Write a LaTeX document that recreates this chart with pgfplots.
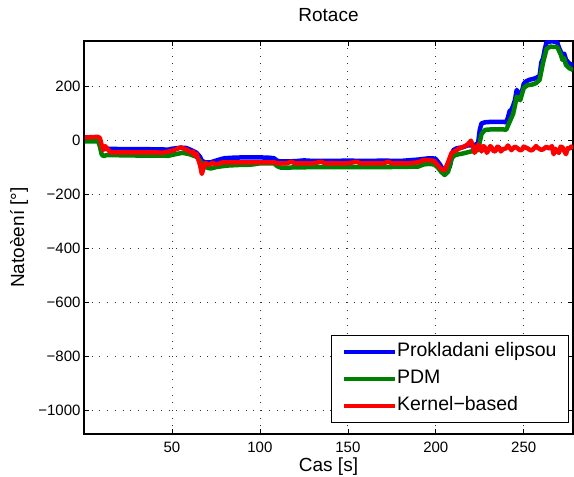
\documentclass[border=0pt]{standalone}
\usepackage{pgfplots}
\pgfplotsset{compat=1.18}
\usepackage{fontspec}
\setmainfont{Liberation Sans}

\definecolor{mblue}{rgb}{0,0,1}
\definecolor{mgreen}{rgb}{0,0.5,0}
\definecolor{mred}{rgb}{1,0,0}

\begin{document}
\begin{tikzpicture}[x=1pt,y=1pt]
\path[use as bounding box] (0,0) rectangle (574,477);
\begin{axis}[
  at={(84pt,43pt)}, anchor=south west,
  scale only axis,
  width=489pt, height=393pt,
  xmin=0, xmax=278,
  ymin=-1086, ymax=369,
  xtick={50,100,150,200,250},
  ytick={-1000,-800,-600,-400,-200,0,200},
  yticklabels={−1000,−800,−600,−400,−200,0,200},
  tick align=inside,
  major tick length=5pt,
  tick style={black, line width=0.6pt},
  grid=major,
  major grid style={black!80, line width=0.7pt, dash pattern=on 0.9pt off 6.8pt},
  axis line style={black, line width=1.1pt},
  ticklabel style={font=\fontsize{15}{17}\selectfont},
  xticklabel style={yshift=-4pt},
  /pgf/number format/assume math mode=true,
  title={Rotace},
  title style={font=\fontsize{19}{21}\selectfont,
    at={([yshift=19.5pt]axis description cs:0.5,1)}, anchor=center},
  xlabel={Cas [s]},
  ylabel={Natoèení [°]},
  label style={font=\fontsize{19}{21}\selectfont},
  xlabel style={at={([yshift=-32.5pt]axis description cs:0.5,0)}, anchor=center},
  ylabel style={at={([xshift=-65pt]axis description cs:0,0.5)}, anchor=center},
  legend style={at={([xshift=-4pt,yshift=11pt]axis description cs:1,0)},
    anchor=south east,
    font=\fontsize{19.5}{21}\selectfont,
    draw=black, line width=1pt, inner xsep=12pt, inner ysep=7pt,
    row sep=8.5pt,
    nodes={inner ysep=0pt, inner xsep=0pt, text height=14pt, text depth=4.5pt}},
  legend cell align=left,
  legend image code/.code={
    \path (0pt,0pt) -- (49pt,0pt);
    \draw[#1, overlay, line width=4pt] (-2pt,0pt) -- (43pt,0pt);},
  every axis plot/.append style={line width=4.5pt, line join=round},
]
% ellipse fitting
\addplot[mblue] coordinates {
(0.5,5) (5,5) (8,3) (9,-10) (10,-28) (12,-30) (20,-31) (30,-31) (40,-32)
(48,-33) (50,-30) (55,-26) (58,-27) (60,-32) (62,-38) (64,-45) (66,-60)
(67,-75) (69,-80) (72,-80) (75,-74) (78,-68) (80,-65) (85,-63) (90,-62)
(100,-62) (105,-63) (108,-65) (110,-75) (112,-77) (120,-76) (125,-73)
(130,-75) (140,-75) (150,-74) (160,-75) (170,-74) (180,-75) (190,-70)
(195,-66) (198,-65) (200,-68) (202,-85) (204,-105) (206,-115) (208,-95)
(210,-35) (212,-28) (215,-25) (218,-18) (222,-16) (224,-10) (225,40)
(226,64) (228,68) (232,70) (238,70) (240,68) (241,85) (242,110) (243,114)
(244,130) (245,150) (246,188) (247,175) (248.5,169) (250,210) (251,218)
(253,225) (255,228) (257,232) (259,240) (260,290) (261,305) (262,340)
(263,365) (266,368) (269,365) (270,345) (271,330) (272,317) (273,322)
(274,300) (276,285) (278,280)
};
\addlegendentry{Prokladani elipsou}
% point distribution model
\addplot[mgreen] coordinates {
(0.5,-3) (8,-3) (9,-20) (10,-50) (11,-57) (13,-53) (20,-54) (30,-55)
(40,-55) (48,-56) (52,-50) (56,-45) (60,-50) (64,-60) (66,-75) (68,-90)
(70,-100) (72,-103) (75,-98) (78,-95) (82,-92) (88,-90) (92,-90) (96,-88)
(100,-84) (105,-84) (108,-84) (110,-95) (112,-100) (130,-98) (150,-98)
(170,-98) (190,-96) (193,-88) (196,-86) (199,-88) (201,-98) (203,-115)
(205,-127) (207,-115) (209,-65) (211,-53) (215,-48) (220,-40) (224,-35)
(226,25) (228,40) (232,42) (238,42) (240,40) (242,70) (243,85) (244,100)
(245,130) (246,163) (248,150) (250,195) (252,205) (255,208) (257,213)
(259,225) (261,290) (262,315) (263,340) (265,348) (269,347) (271,320)
(272,299) (273,305) (274,280) (276,268) (278,262)
};
\addlegendentry{PDM}
% kernel-based tracking
\addplot[mred] coordinates {
(0.5,12) (8,14) (9,10) (10,-15) (11,-35) (12,-20) (13,-28) (15,-43)
(30,-43) (45,-44) (50,-38) (53,-30) (55,-25) (57,-30) (59,-35) (61,-45)
(62,-40) (63,-55) (64,-48) (65,-70) (66,-90) (67,-123) (68,-100) (69,-82)
(71,-90) (73,-82) (75,-88) (77,-84) (79,-80) (85,-80) (100,-80) (108,-80)
(110,-84) (115,-84) (118,-78) (120,-84) (130,-84) (135,-78) (137,-84)
(150,-84) (155,-78) (157,-84) (170,-84) (173,-78) (175,-84) (185,-84)
(190,-80) (193,-72) (196,-72) (199,-75) (201,-90) (203,-105) (205,-110)
(207,-80) (209,-45) (211,-38) (213,-30) (216,-22) (218,-15) (220,0)
(221,-20) (222,-45) (223,-30) (224,-15) (225,-20) (226,-40) (227,-20)
(228,-25) (229,-45) (230,-35) (231,-20) (232,-28) (233,-40) (234,-38)
(235,-22) (236,-25) (237,-40) (238,-32) (240,-28) (241,-18) (243,-35)
(245,-22) (246,-26) (248,-36) (249,-33) (250,-22) (252,-28) (254,-36)
(255,-34) (257,-20) (258,-27) (260,-34) (261,-32) (263,-22) (264,-28)
(265,-28) (266,-20) (267,-50) (268,-30) (269,-40) (270,-45) (271,-22)
(272,-25) (273,-38) (274,-50) (275,-28) (276,-30) (277,-22) (278,-30)
};
\addlegendentry{Kernel−based}
\end{axis}
\end{tikzpicture}
\end{document}
